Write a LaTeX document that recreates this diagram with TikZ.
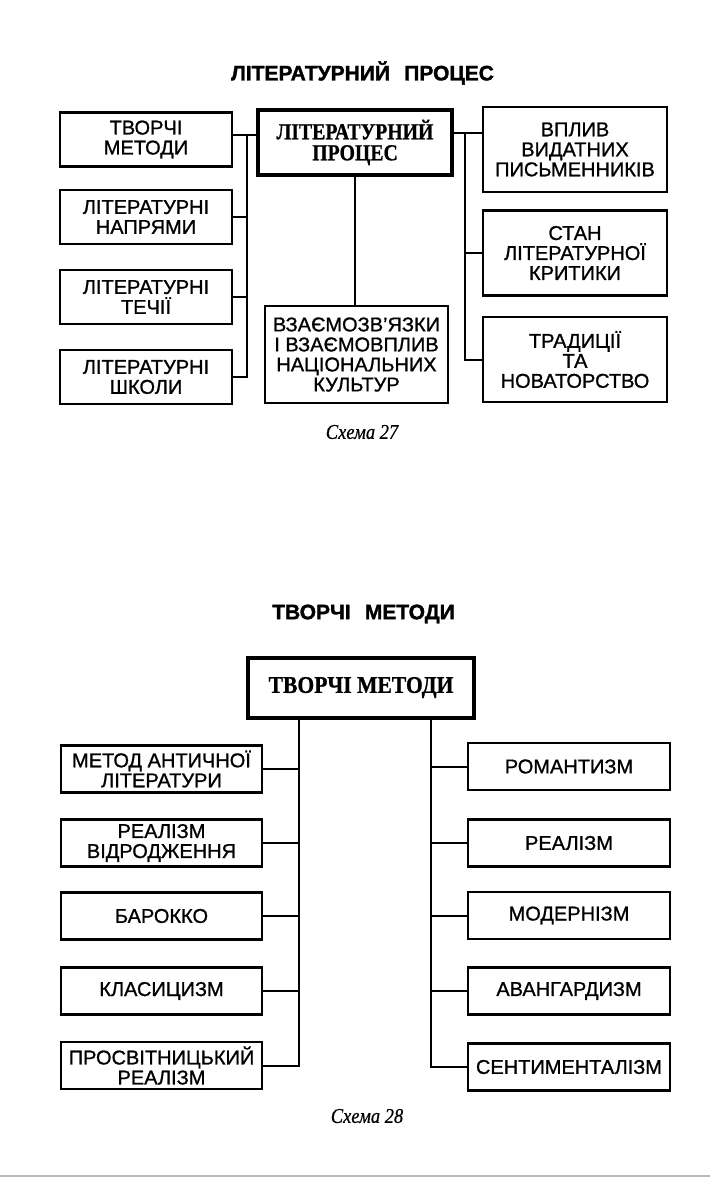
\documentclass[tikz,border=0pt]{standalone}
\usepackage{fontspec}
\setmainfont{Liberation Serif}
\newfontfamily\boxfont[FakeBold=1]{Liberation Sans}
\newfontfamily\headfont[BoldFeatures={FakeBold=1.5}]{Liberation Sans}
\newfontfamily\procfont[FakeStretch=0.86,BoldFeatures={FakeBold=0.8}]{Liberation Serif}
\newfontfamily\proctfont[FakeStretch=0.9,BoldFeatures={FakeBold=0.8}]{Liberation Serif}
\newfontfamily\capfont[FakeStretch=0.88,FakeBold=0.6]{Liberation Serif}
\tikzset{
  itembox/.style={draw, line width=2.2pt, inner sep=0pt, align=center, font=\boxfont\fontsize{20}{20}\selectfont},
  lbox/.style={itembox, minimum width=172pt, minimum height=54pt},
  rbox/.style={itembox, minimum width=184pt, minimum height=85pt},
  mlbox/.style={itembox, minimum width=201pt, minimum height=47pt},
  mrbox/.style={itembox, minimum width=202pt, minimum height=47pt},
  procbox/.style={draw, line width=4pt, inner sep=0pt, align=center},
  heading/.style={font=\headfont\bfseries\fontsize{21}{21}\selectfont},
  schemecap/.style={font=\capfont\itshape\fontsize{21}{21}\selectfont},
  connector/.style={line width=2pt},
}
\begin{document}
\begin{tikzpicture}[x=1pt,y=-1pt]
		\useasboundingbox (0,0) rectangle (710,1177);
		%%%%% SCHEME 27 %%%%%
		\node[heading] (head27) at (362.5,73) {ЛІТЕРАТУРНИЙ\hspace{0.4em} ПРОЦЕС};
		
		\node[procbox, minimum width=194pt, minimum height=65pt, font=\procfont\bfseries\fontsize{23}{21}\selectfont] (proc) at (355,142.5) {ЛІТЕРАТУРНИЙ\\ПРОЦЕС};
		
		\node[lbox] (tvm) at (146,139.5) {ТВОРЧІ\\МЕТОДИ};
		\node[lbox] (napr) at (146,217) {ЛІТЕРАТУРНІ\\НАПРЯМИ};
		\node[lbox] (tech) at (146,297) {ЛІТЕРАТУРНІ\\ТЕЧІЇ};
		\node[lbox] (shk) at (146,377) {ЛІТЕРАТУРНІ\\ШКОЛИ};
		
		\node[itembox, minimum width=183pt, minimum height=97pt] (vzaem) at (356.5,354.5) {ВЗАЄМОЗВ’ЯЗКИ\\І ВЗАЄМОВПЛИВ\\НАЦІОНАЛЬНИХ\\КУЛЬТУР};
		
		\node[rbox] (vplyv) at (575,149.5) {ВПЛИВ\\ВИДАТНИХ\\ПИСЬМЕННИКІВ};
		\node[rbox] (stan) at (575,253) {СТАН\\ЛІТЕРАТУРНОЇ\\КРИТИКИ};
		\node[rbox] (trad) at (575,359.5) {ТРАДИЦІЇ\\ТА\\НОВАТОРСТВО};
		
		\coordinate (ljoin) at (246.5,135);
		\coordinate (rjoin) at (465,133);
		\draw[connector] (tvm.east |- ljoin) -- (proc.west |- ljoin);
		\draw[connector] (ljoin) |- (shk.east);
		\draw[connector] (napr.east) -- (napr.east -| ljoin);
		\draw[connector] (tech.east) -- (tech.east -| ljoin);
		\draw[connector] (proc.south) -- (proc.south |- vzaem.north);
		\draw[connector] (proc.east |- rjoin) -- (vplyv.west |- rjoin);
		\draw[connector] (rjoin) |- (trad.west);
		\draw[connector] (stan.west) -- (stan.west -| rjoin);
		
		\node[schemecap] (cap27) at (362,432) {Схема 27};
		
		%%%%% SCHEME 28 %%%%%
		\node[heading] (head28) at (363.5,614) {ТВОРЧІ\hspace{0.4em} МЕТОДИ};
		
		\node[procbox, minimum width=226pt, minimum height=60pt, font=\proctfont\bfseries\fontsize{24}{24}\selectfont] (tm) at (361,687.5) {ТВОРЧІ МЕТОДИ};
		
		\node[mlbox] (antych) at (161.5,769) {МЕТОД АНТИЧНОЇ\\ЛІТЕРАТУРИ};
		\node[mlbox] (vidr) at (161.5,843) {РЕАЛІЗМ\\ВІДРОДЖЕННЯ};
		\node[mlbox] (barok) at (161.5,916) {БАРОККО};
		\node[mlbox] (klas) at (161.5,991) {КЛАСИЦИЗМ};
		\node[mlbox] (prosv) at (161.5,1065.5) {ПРОСВІТНИЦЬКИЙ\\РЕАЛІЗМ};
		
		\node[mrbox] (roman) at (569,766.5) {РОМАНТИЗМ};
		\node[mrbox] (real) at (569,843) {РЕАЛІЗМ};
		\node[mrbox] (modern) at (569,915.5) {МОДЕРНІЗМ};
		\node[mrbox] (avang) at (569,991) {АВАНГАРДИЗМ};
		\node[mrbox] (sent) at (569,1067) {СЕНТИМЕНТАЛІЗМ};
		
		\coordinate (lbus) at (298.5,730);
		\coordinate (rbus) at (430.5,730);
		\draw[connector] (tm.south -| lbus) |- (prosv.east);
		\draw[connector] (antych.east) -- (antych.east -| lbus);
		\draw[connector] (vidr.east) -- (vidr.east -| lbus);
		\draw[connector] (barok.east) -- (barok.east -| lbus);
		\draw[connector] (klas.east) -- (klas.east -| lbus);
		\draw[connector] (tm.south -| rbus) |- (sent.west);
		\draw[connector] (roman.west) -- (roman.west -| rbus);
		\draw[connector] (real.west) -- (real.west -| rbus);
		\draw[connector] (modern.west) -- (modern.west -| rbus);
		\draw[connector] (avang.west) -- (avang.west -| rbus);
		
		\node[schemecap] (cap28) at (367,1116) {Схема 28};
		
		\draw[gray!55, line width=1.6pt] (0,1176) -- (710,1176);
		%%%%% END %%%%%
\end{tikzpicture}
\end{document}
